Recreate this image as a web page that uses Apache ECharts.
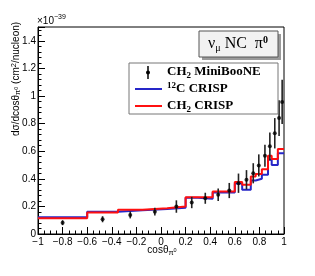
<!DOCTYPE html>
<html><head><meta charset="utf-8">
<script src="https://cdn.jsdelivr.net/npm/echarts@6/dist/echarts.min.js"></script>
<style>html,body{margin:0;padding:0;background:#fff}#c{width:315px;height:276px}</style>
</head><body><div id="c"></div>
<script>
// MiniBooNE CH2 data points
var dataX = [-0.8,-0.475,-0.25,-0.05,0.125,0.25,0.36,0.465,0.555,0.63,0.695,0.75,0.795,0.845,0.885,0.925,0.96,0.985];
var dataY = [0.082,0.107,0.138,0.162,0.199,0.228,0.259,0.284,0.315,0.368,0.393,0.44,0.497,0.567,0.635,0.73,0.84,0.957];
var dataErr = [0.018,0.022,0.025,0.028,0.045,0.041,0.04,0.045,0.055,0.07,0.07,0.073,0.08,0.08,0.1,0.11,0.13,0.16];
// histogram bin edges and values
var binEdges = [-1,-0.6,-0.35,-0.15,0.05,0.2,0.3,0.42,0.51,0.6,0.66,0.73,0.77,0.82,0.87,0.9,0.95,0.97,1.0];
var crispC12 = [0.121,0.162,0.172,0.182,0.19,0.262,0.255,0.30,0.30,0.366,0.32,0.388,0.40,0.43,0.538,0.50,0.585,0.585];
var crispCH2 = [0.115,0.155,0.175,0.187,0.199,0.267,0.267,0.308,0.308,0.376,0.356,0.417,0.434,0.47,0.567,0.543,0.616,0.616];
var xTicks = [-1,-0.8,-0.6,-0.4,-0.2,0,0.2,0.4,0.6,0.8,1];
var yTicks = [0,0.2,0.4,0.6,0.8,1,1.2,1.4];

function stepData(vals){
  var out=[];
  for(var i=0;i<vals.length;i++){ out.push([binEdges[i],vals[i]]); out.push([binEdges[i+1],vals[i]]); }
  return out;
}
var pts = dataX.map(function(x,i){return [x,dataY[i],dataErr[i]];});
var SANS = 'Liberation Sans';
var SERIF = 'Liberation Serif';
function fmt(v){ var r=+(+v).toFixed(2); if(r<0) return '\u2212'+Math.abs(r); return String(r); }

var chart = echarts.init(document.getElementById('c'), null, {renderer:'canvas'});
chart.setOption({
  animation:false,
  grid:{left:38,right:31,top:27,bottom:42,show:true,borderColor:'#000',borderWidth:1,backgroundColor:'transparent'},
  xAxis:{type:'value',min:-1,max:1,interval:0.2,
    axisLine:{show:true,onZero:false,lineStyle:{color:'#000',width:1}},
    axisTick:{show:true,inside:true,length:7,lineStyle:{color:'#000'}},
    minorTick:{show:true,splitNumber:4,length:3.5,lineStyle:{color:'#000'}},
    splitLine:{show:false},
    axisLabel:{color:'#000',fontFamily:SANS,fontSize:10,margin:3,formatter:function(v){return xTicks.indexOf(+(+v).toFixed(2))>=0?fmt(v):'';}}
  },
  yAxis:{type:'value',min:0,max:1.5,interval:0.2,
    axisLine:{show:true,onZero:false,lineStyle:{color:'#000',width:1}},
    axisTick:{show:true,inside:true,length:7,lineStyle:{color:'#000'}},
    minorTick:{show:true,splitNumber:5,length:3.5,lineStyle:{color:'#000'}},
    splitLine:{show:false},
    axisLabel:{color:'#000',fontFamily:SANS,fontSize:10,margin:2,showMaxLabel:false,formatter:function(v){return yTicks.indexOf(+(+v).toFixed(2))>=0?fmt(v):'';}}
  },
  series:[
    {type:'line',data:stepData(crispC12),showSymbol:false,lineStyle:{color:'#2626c8',width:2},z:3},
    {type:'line',data:stepData(crispCH2),showSymbol:false,lineStyle:{color:'#ff1010',width:2},z:4},
    {type:'custom',data:pts,z:5,renderItem:function(params,api){
      var x=api.value(0),y=api.value(1),e=api.value(2);
      var a=api.coord([x,y+e]),b=api.coord([x,y-e]);
      return {type:'line',shape:{x1:a[0],y1:a[1],x2:b[0],y2:b[1]},style:{stroke:'#222',lineWidth:1.6}};
    }},
    {type:'scatter',data:pts.map(function(p){return [p[0],p[1]];}),symbol:'circle',symbolSize:4,itemStyle:{color:'#000'},z:6}
  ],
  graphic:[
    // multiplier
    {type:'text',left:37,top:14,style:{text:'{a|\u00d710}{s|\u221239}',rich:{a:{fontFamily:SANS,fontSize:10,fill:'#000',verticalAlign:'bottom',lineHeight:12},s:{fontFamily:SANS,fontSize:7,fill:'#000',verticalAlign:'top',lineHeight:12}}}},
    // y axis title
    {type:'text',x:16,y:79,rotation:Math.PI/2,style:{
      text:'{n|d\u03c3/dcos\u03b8}{sb|\u03c0}{sbs|0}{n| (cm}{sp|2}{n|/nucleon)}',
      align:'center',verticalAlign:'middle',
      rich:{n:{fontFamily:SANS,fontSize:10,fill:'#000',lineHeight:12,verticalAlign:'middle'},
            sb:{fontFamily:SANS,fontSize:7.5,fill:'#000',lineHeight:12,verticalAlign:'bottom'},
            sbs:{fontFamily:SANS,fontSize:5.5,fill:'#000',lineHeight:12,verticalAlign:'bottom',padding:[0,0,3,0]},
            sp:{fontFamily:SANS,fontSize:7.5,fill:'#000',lineHeight:12,verticalAlign:'top'}}
    }},
    // x axis title
    {type:'text',x:162,y:250,style:{
      text:'{n|cos\u03b8}{sb|\u03c0}{sbs|0}',align:'center',verticalAlign:'middle',
      rich:{n:{fontFamily:SANS,fontSize:10,fill:'#000',lineHeight:13,verticalAlign:'middle'},
            sb:{fontFamily:SANS,fontSize:7.5,fill:'#000',lineHeight:13,verticalAlign:'bottom'},
            sbs:{fontFamily:SANS,fontSize:5.5,fill:'#000',lineHeight:13,verticalAlign:'bottom',padding:[0,0,3,0]}}
    }},
    // title box
    {type:'rect',shape:{x:202,y:34,width:79,height:26},style:{fill:'#9a9a9a'},z:10},
    {type:'rect',shape:{x:199,y:31,width:79,height:26},style:{fill:'#f2f2f2',stroke:'#555',lineWidth:1},z:11},
    {type:'text',x:238,y:44,z:12,style:{
      text:'{n|\u03bd}{sb|\u03bc}{n| NC  \u03c0}{sp|0}',align:'center',verticalAlign:'middle',
      rich:{n:{fontFamily:SERIF,fontSize:16,fill:'#000',lineHeight:18,verticalAlign:'middle'},
            sb:{fontFamily:SERIF,fontSize:10,fill:'#000',lineHeight:18,verticalAlign:'bottom'},
            sp:{fontFamily:SERIF,fontSize:10,fill:'#000',lineHeight:18,verticalAlign:'top',fontWeight:'bold'}}
    }},
    // legend box
    {type:'rect',shape:{x:129,y:63,width:149,height:51},style:{fill:'#fff',stroke:'#777',lineWidth:1},z:10},
    {type:'line',shape:{x1:148,y1:66,x2:148,y2:79},style:{stroke:'#111',lineWidth:1.6},z:11},
    {type:'circle',shape:{cx:148,cy:72.5,r:2},style:{fill:'#000'},z:11},
    {type:'line',shape:{x1:135,y1:89,x2:162,y2:89},style:{stroke:'#2626c8',lineWidth:2},z:11},
    {type:'line',shape:{x1:135,y1:106,x2:162,y2:106},style:{stroke:'#ff1010',lineWidth:2},z:11},
    {type:'text',x:167,y:72,z:11,style:{text:'{b|CH}{s|2}{b| MiniBooNE}',verticalAlign:'middle',
      rich:{b:{fontFamily:SERIF,fontWeight:'bold',fontSize:13,fill:'#000',lineHeight:16,verticalAlign:'middle'},
            s:{fontFamily:SERIF,fontWeight:'bold',fontSize:9,fill:'#000',lineHeight:16,verticalAlign:'bottom'}}}},
    {type:'text',x:167,y:89,z:11,style:{text:'{s|12}{b|C CRISP}',verticalAlign:'middle',
      rich:{b:{fontFamily:SERIF,fontWeight:'bold',fontSize:13,fill:'#000',lineHeight:16,verticalAlign:'middle'},
            s:{fontFamily:SERIF,fontWeight:'bold',fontSize:9,fill:'#000',lineHeight:16,verticalAlign:'top'}}}},
    {type:'text',x:167,y:106,z:11,style:{text:'{b|CH}{s|2}{b| CRISP}',verticalAlign:'middle',
      rich:{b:{fontFamily:SERIF,fontWeight:'bold',fontSize:13,fill:'#000',lineHeight:16,verticalAlign:'middle'},
            s:{fontFamily:SERIF,fontWeight:'bold',fontSize:9,fill:'#000',lineHeight:16,verticalAlign:'bottom'}}}}
  ]
});
</script></body></html>
